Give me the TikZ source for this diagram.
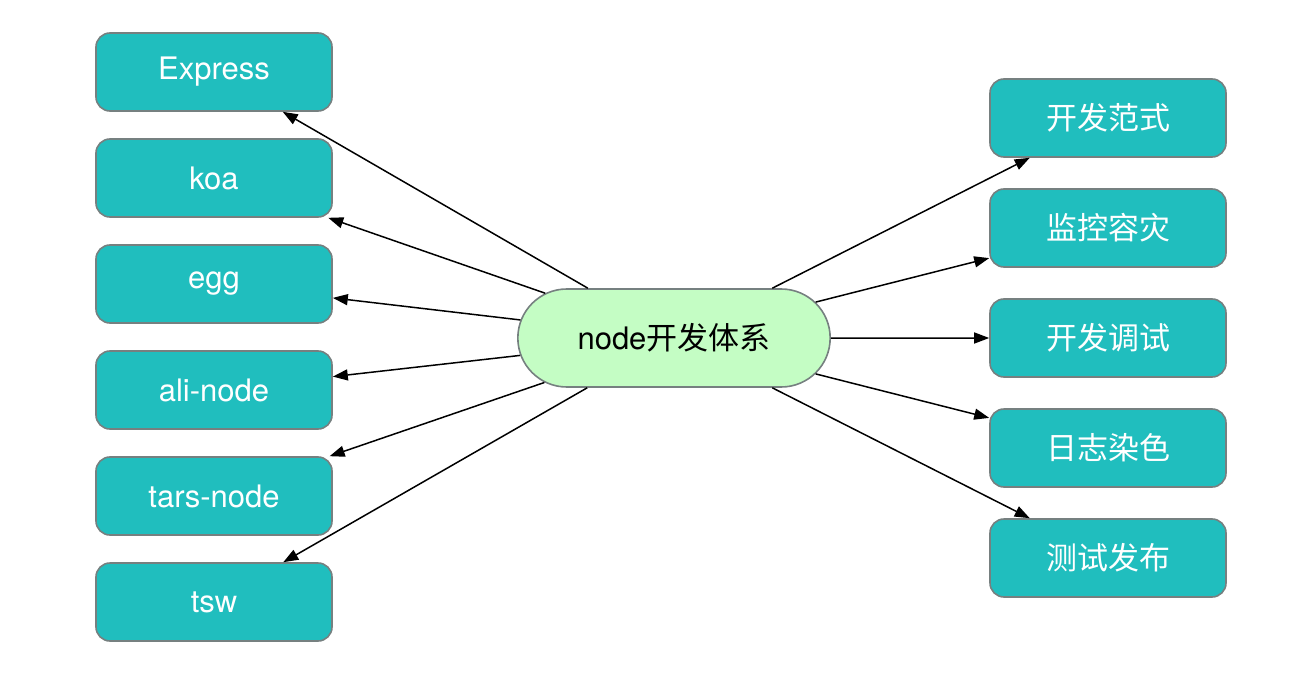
\documentclass[tikz,border=0pt]{standalone}
\usepackage{fontspec}
\setmainfont{TeX Gyre Heros}
\newfontfamily\cjk{Noto Sans CJK SC}
\usetikzlibrary{positioning, shapes.misc, arrows.meta}
\definecolor{boxteal}{RGB}{32,190,190}
\definecolor{boxline}{RGB}{118,128,128}
\definecolor{hubgreen}{RGB}{196,253,196}

\begin{document}
\begin{tikzpicture}
        [
            x=1pt, y=-1pt,
            item/.style={rectangle, rounded corners=14pt, draw=boxline,
                         line width=1.6pt, fill=boxteal, text=white,
                         minimum width=236pt, minimum height=78pt,
                         font=\fontsize{31}{36}\selectfont},
            hub/.style={rounded rectangle, draw=boxline, line width=1.6pt,
                        fill=hubgreen, minimum width=319pt, minimum height=98pt,
                        font=\fontsize{31}{36}\selectfont},
            link/.style={-{Triangle[length=15pt,width=11pt]}, line width=1.5pt}
        ]
        \useasboundingbox (0,0) rectangle (1312,674);
        \node (hub) [hub] at (674,338) {node{\cjk 开发体系}};
        % left column
        \node (express) [item] at (214,72) {Express};
        \node (koa) [item, below=26.4pt of express] {koa};
        \node (egg) [item, below=26.4pt of koa] {egg};
        \node (ali) [item, below=26.4pt of egg] {ali-node};
        \node (tars) [item, below=26.4pt of ali] {tars-node};
        \node (tsw) [item, below=26.4pt of tars] {tsw};
        % right column
        \node (fanshi) [item, font=\cjk\fontsize{31}{36}\selectfont] at (1108,118) {开发范式};
        \node (jiankong) [item, font=\cjk\fontsize{31}{36}\selectfont, below=30.4pt of fanshi] {监控容灾};
        \node (tiaoshi) [item, font=\cjk\fontsize{31}{36}\selectfont, below=30.4pt of jiankong] {开发调试};
        \node (rizhi) [item, font=\cjk\fontsize{31}{36}\selectfont, below=30.4pt of tiaoshi] {日志染色};
        \node (fabu) [item, font=\cjk\fontsize{31}{36}\selectfont, below=30.4pt of rizhi] {测试发布};
        \foreach \j in {express,koa,egg,ali,tars,tsw,fanshi,jiankong,tiaoshi,rizhi,fabu}
            \draw [link] (hub) -- (\j);
    \end{tikzpicture}
\end{document}
